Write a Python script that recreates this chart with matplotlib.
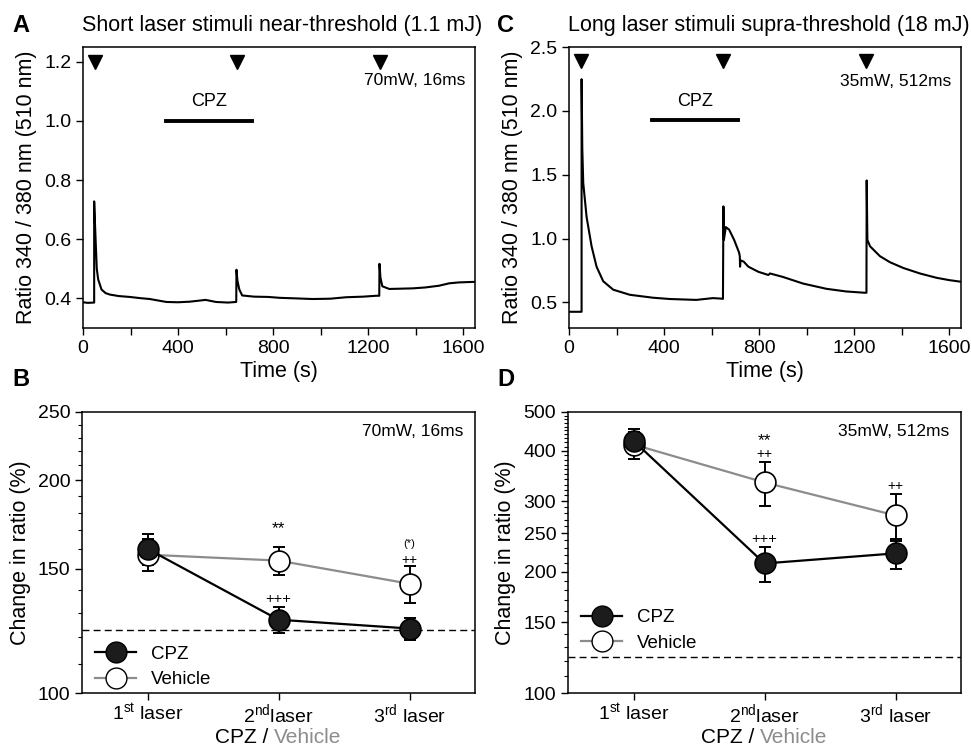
import numpy as np
import matplotlib
matplotlib.use("Agg")
from matplotlib import pyplot as plt
from matplotlib.lines import Line2D

plt.rcParams['font.family'] = ['Liberation Sans', 'DejaVu Sans']
plt.rcParams['mathtext.fontset'] = 'custom'
plt.rcParams['mathtext.rm'] = 'Liberation Sans'
plt.rcParams['mathtext.it'] = 'Liberation Sans'

trace_a_t = [0, 20, 47, 47, 52, 58, 64, 78, 95, 113, 150, 197, 240, 281, 351, 400, 450, 516, 560, 610, 645,
             646, 650, 658, 670, 720, 780, 828, 900, 966, 1040, 1108, 1180, 1234, 1247,
             1248, 1252, 1260, 1289, 1340, 1387, 1440, 1499, 1541, 1580, 1611, 1650]
trace_a_v = [0.387, 0.385, 0.386, 0.728, 0.62, 0.50, 0.464, 0.43, 0.418, 0.413, 0.408, 0.405, 0.401, 0.398,
             0.388, 0.387, 0.389, 0.395, 0.388, 0.386, 0.388,
             0.497, 0.46, 0.43, 0.41, 0.406, 0.405, 0.402, 0.400, 0.398, 0.399, 0.404, 0.406, 0.409, 0.409,
             0.517, 0.47, 0.441, 0.432, 0.433, 0.434, 0.437, 0.443, 0.451, 0.454, 0.455, 0.456]

trace_c_t = [0, 53, 53, 56, 60, 74, 95, 116, 144, 186, 256, 354, 424, 536, 606, 641, 648,
             650, 652, 660, 674, 695, 716, 719, 720, 722, 735, 755, 797, 839, 846, 900, 985, 1083, 1167, 1244, 1252,
             1253, 1256, 1267, 1309, 1351, 1407, 1477, 1547, 1600, 1650]
trace_c_v = [0.427, 0.427, 2.248, 1.70, 1.435, 1.17, 0.94, 0.78, 0.666, 0.60, 0.56, 0.537, 0.527, 0.52,
             0.534, 0.53, 0.528,
             1.252, 0.99, 1.09, 1.07, 0.99, 0.89, 0.86, 0.78, 0.83, 0.82, 0.78, 0.74, 0.715, 0.727, 0.70, 0.648,
             0.607, 0.586, 0.576, 0.576,
             1.455, 0.99, 0.94, 0.862, 0.815, 0.77, 0.727, 0.693, 0.675, 0.662]

stim_times = [50, 650, 1250]

# ---- summary data (change in ratio, %)
lasers = ['1$^{\\mathrm{st}}$ laser', '2$^{\\mathrm{nd}}$laser', '3$^{\\mathrm{rd}}$ laser']
b_cpz = [160, 127, 123.4]
b_cpz_err = [8, 5.5, 4.5]
b_veh = [157, 154, 142.8]
b_veh_err = [8, 7, 8.5]
d_cpz = [424, 210, 222.5]
d_cpz_err = [30, 21, 19]
d_veh = [415, 334, 276.5]
d_veh_err = [32, 42, 37]
baseline_pct = 123

W, H = 971, 746
fig = plt.figure(figsize=(W / 100, H / 100), dpi=100)


def px_axes(l, t, r, b):
    return fig.add_axes([l / W, 1 - b / H, (r - l) / W, (b - t) / H])


def style(ax):
    for s in ax.spines.values():
        s.set_linewidth(1.1)
    ax.tick_params(direction='out', length=5, width=1, labelsize=14)
    ax.tick_params(which='minor', direction='out', length=3, width=0.8)


# ---------------- A and C traces
def trace_panel(ax, t, v, ylim, yticks, tri_y, bar_y, cpz_y, note_y, note):
    ax.plot(t, v, color='black', lw=1.5)
    ax.plot(stim_times, [tri_y] * 3, 'v', color='black', ms=10.5)
    ax.plot([350, 710], [bar_y, bar_y], color='black', lw=2.8)
    ax.text(530, cpz_y, 'CPZ', ha='center', va='center', fontsize=13)
    ax.text(1610, note_y, note, ha='right', va='center', fontsize=12.5)
    ax.set_xlim(0, 1650)
    ax.set_ylim(*ylim)
    ax.set_xticks(np.arange(0, 1700, 400))
    ax.set_xticks(np.arange(200, 1700, 400), minor=True)
    ax.set_yticks(yticks)
    ax.set_yticklabels(['%.1f' % y for y in yticks])
    ax.set_xlabel('Time (s)', fontsize=15.5, labelpad=3)
    ax.set_ylabel('Ratio 340 / 380 nm (510 nm)', fontsize=15.5, labelpad=5)
    style(ax)
    ax.tick_params(which='minor', length=5, width=1)


axA = px_axes(83, 47, 475, 328)
trace_panel(axA, trace_a_t, trace_a_v, (0.30, 1.25), [0.4, 0.6, 0.8, 1.0, 1.2],
            1.2, 1.0, 1.065, 1.136, '70mW, 16ms')
axC = px_axes(569, 47, 961, 328)
trace_panel(axC, trace_c_t, trace_c_v, (0.30, 2.5), [0.5, 1.0, 1.5, 2.0, 2.5],
            2.39, 1.93, 2.07, 2.23, '35mW, 512ms')

for lab, x, y in [('A', 12, 25), ('C', 497, 25), ('B', 12, 380), ('D', 497, 380)]:
    fig.text(x / W, 1 - y / H, lab, fontsize=17, fontweight='bold', va='center', ha='left')
fig.text(82 / W, 1 - 25 / H, 'Short laser stimuli near-threshold (1.1 mJ)', fontsize=15.5, va='center')
fig.text(568 / W, 1 - 25 / H, 'Long laser stimuli supra-threshold (18 mJ)', fontsize=15.5, va='center')


# ---------------- B and D summaries
def summary_panel(ax, cpz, cpz_err, veh, veh_err, ylim, yticks, note, marks, leg_y):
    x = [1, 2, 3]
    ax.axhline(baseline_pct, color='black', lw=1, ls=(0, (5, 3)))
    ax.errorbar(x, veh, yerr=veh_err, fmt='none', ecolor='black', elinewidth=1.4, capsize=4, capthick=1.4)
    ax.errorbar(x, cpz, yerr=cpz_err, fmt='none', ecolor='black', elinewidth=1.4, capsize=4, capthick=1.4)
    ax.plot(x, veh, '-o', color='#8c8c8c', lw=1.6, ms=15, mfc='white', mec='black', mew=1.2, zorder=3)
    ax.plot(x, cpz, '-o', color='black', lw=1.6, ms=15, mfc='#1c1c1c', mec='black', mew=1.2, zorder=4)
    ax.set_yscale('log')
    ax.set_ylim(*ylim)
    ax.set_xlim(0.5, 3.5)
    ax.set_yticks(yticks)
    ax.set_yticklabels([str(y) for y in yticks])
    ax.set_yticks([m for m in range(110, ylim[1], 10) if m not in yticks], minor=True)
    ax.yaxis.set_minor_formatter(matplotlib.ticker.NullFormatter())
    ax.set_xticks(x)
    ax.set_xticklabels(lasers, fontsize=16)
    ax.set_ylabel('Change in ratio (%)', fontsize=15.5, labelpad=5)
    ax.text(0.97, 0.93, note, transform=ax.transAxes, ha='right', va='center', fontsize=12.5)
    for xi, yi, s, fs in marks:
        ax.text(xi, yi, s, ha='center', va='center', fontsize=fs)
    style(ax)
    ax.tick_params(axis='x', length=5, pad=1.5)
    h1 = Line2D([], [], color='black', marker='o', ms=15, mfc='#1c1c1c', mec='black', lw=1.6)
    h2 = Line2D([], [], color='#8c8c8c', marker='o', ms=15, mfc='white', mec='black', lw=1.6)
    ax.legend([h1, h2], ['CPZ', 'Vehicle'], loc='lower left', frameon=False, fontsize=13.5,
              handlelength=2.2, borderaxespad=0.3, labelspacing=0.45, bbox_to_anchor=(0.0, leg_y))
    ax.text(0.488, -0.158, 'CPZ / ', transform=ax.transAxes, ha='right', va='center', fontsize=15)
    ax.text(0.488, -0.158, 'Vehicle', transform=ax.transAxes, ha='left', va='center', fontsize=15,
            color='#8c8c8c')


axB = px_axes(82, 412, 475, 693)
summary_panel(axB, b_cpz, b_cpz_err, b_veh, b_veh_err, (100, 250), [100, 150, 200, 250], '70mW, 16ms',
              [(2, 171, '**', 12.5), (3, 162.5, '(*)', 8), (3, 154.5, '++', 10), (2, 136, '+++', 10.5)],
              -0.03)
axD = px_axes(568, 412, 961, 693)
summary_panel(axD, d_cpz, d_cpz_err, d_veh, d_veh_err, (100, 500), [100, 150, 200, 250, 300, 400, 500],
              '35mW, 512ms',
              [(2, 425, '**', 12.5), (2, 392, '++', 10), (3, 328, '++', 10), (2, 241, '+++', 10.5)],
              0.1)

fig.savefig('out.png', dpi=100)
